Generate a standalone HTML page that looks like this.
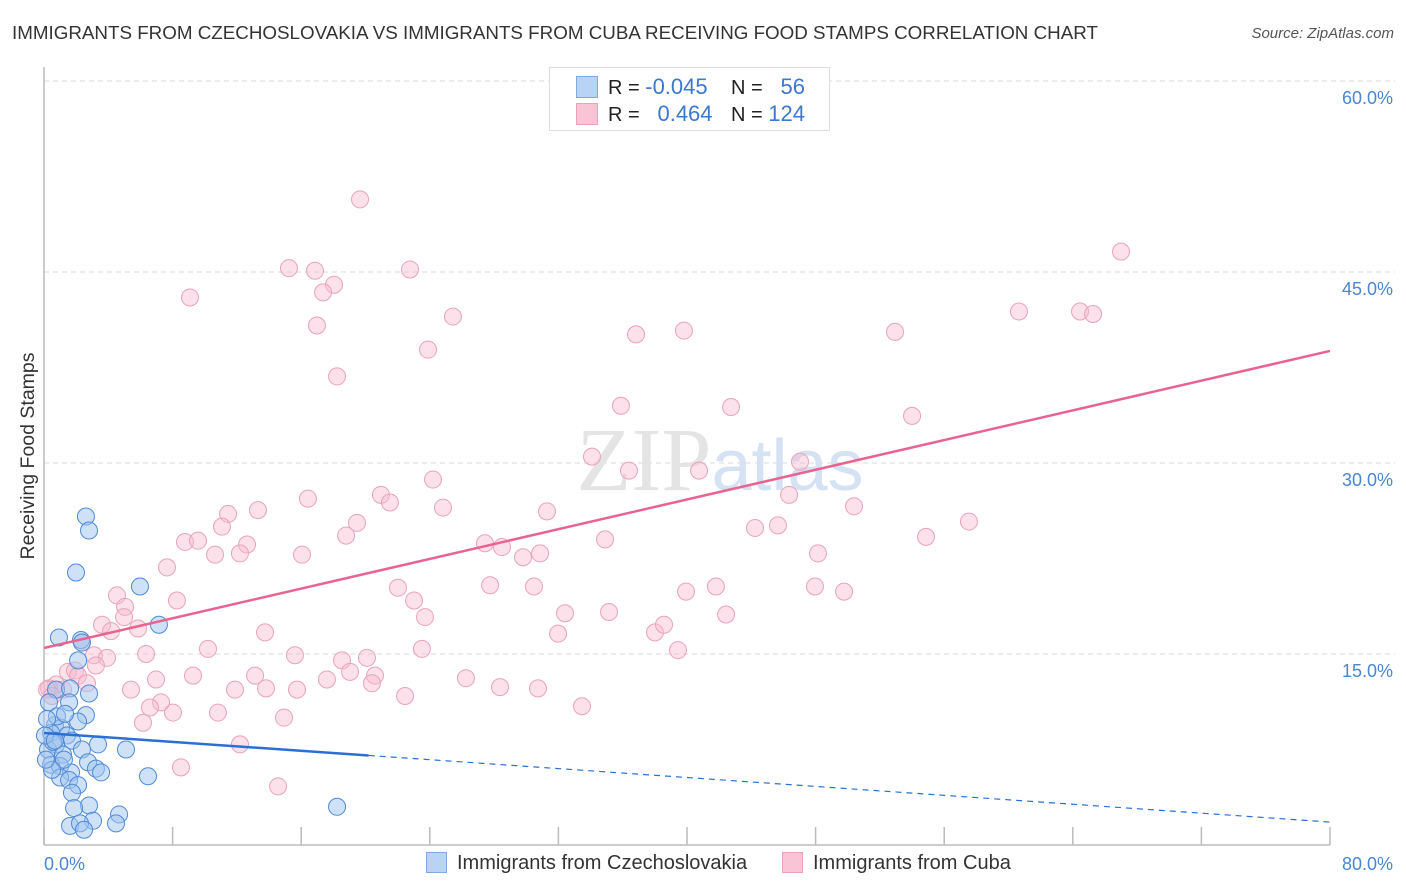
<!DOCTYPE html>
<html><head><meta charset="utf-8"><style>
body{margin:0;background:#fff;font-family:"Liberation Sans",sans-serif;}
#wrap{position:relative;width:1406px;height:892px;overflow:hidden;}
.t{position:absolute;white-space:nowrap;}
</style></head><body>
<div id="wrap">
<div class="t" style="left:12px;top:22px;font-size:18.8px;color:#333;">IMMIGRANTS FROM CZECHOSLOVAKIA VS IMMIGRANTS FROM CUBA RECEIVING FOOD STAMPS CORRELATION CHART</div>
<div class="t" style="right:12px;top:25px;font-size:15px;color:#555;font-style:italic;">Source: ZipAtlas.com</div>
<svg id="svg" width="1406" height="892" style="position:absolute;left:0;top:0"></svg>
</div>
<script>
const xTicks=[0,8,16,24,32,40,48,56,64,72,80];
const yTicks=[15,30,45,60];
const yTickLabels=["15.0%","30.0%","45.0%","60.0%"];
const xEndLabels=["0.0%","80.0%"];
const czX=[2.61,2.8,1.99,5.97,7.15,0.93,2.3,2.36,2.12,0.75,1.62,2.8,1.56,0.31,2.61,2.12,0.68,1.06,0.44,1.43,1.74,0.75,0.25,3.36,2.36,5.1,1.18,2.74,0.44,1.0,3.23,3.55,1.68,1.0,1.56,6.47,2.12,1.74,2.8,1.87,4.67,3.05,1.62,2.24,2.49,4.48,18.23,0.56,1.24,0.06,0.81,0.19,0.5,0.12,1.31,0.68];
const czY=[25.8,24.7,21.4,20.3,17.3,16.3,16.1,15.9,14.5,12.2,12.3,11.9,11.2,11.2,10.2,9.7,9.4,9.2,8.8,8.6,8.2,7.9,7.5,7.9,7.5,7.5,7.1,6.5,6.3,6.2,6.0,5.7,5.7,5.3,5.1,5.4,4.7,4.1,3.1,2.9,2.4,1.9,1.5,1.7,1.2,1.7,3.0,8.1,6.7,8.6,10.1,9.9,5.9,6.7,10.3,8.2];
const cuX=[19.66,15.24,16.86,18.04,17.36,9.08,22.77,25.44,16.98,23.89,18.23,67.0,60.65,64.45,65.26,52.94,39.81,36.83,42.74,35.89,54.0,34.09,36.39,40.75,47.03,24.2,20.96,21.52,16.42,13.31,11.45,24.82,31.29,50.39,57.54,19.47,11.07,18.79,46.35,45.66,44.23,34.9,54.87,27.43,28.49,29.8,30.86,48.15,8.77,9.58,12.63,12.19,16.05,10.64,7.65,27.75,30.48,22.02,41.8,47.96,49.77,39.94,8.27,4.54,23.02,23.7,5.04,4.98,32.41,35.15,42.43,3.61,4.17,5.85,2.36,31.98,38.01,38.57,13.75,10.2,39.44,6.35,3.11,3.92,3.23,1.49,1.93,2.12,15.61,23.51,18.54,20.09,19.04,20.59,9.27,13.13,6.97,17.6,26.25,20.4,2.67,1.18,0.75,0.31,5.41,11.88,13.81,15.74,28.37,30.73,22.46,7.28,6.59,8.02,10.82,33.47,14.93,6.16,12.19,8.52,14.56,0.19,0.5];
const cuY=[50.7,45.3,45.1,44.0,43.4,43.0,45.2,41.5,40.8,38.9,36.8,46.6,41.9,41.9,41.7,40.3,40.4,40.1,34.4,34.5,33.7,30.5,29.4,29.4,30.1,28.7,27.5,26.9,27.2,26.3,26.0,26.5,26.2,26.6,25.4,25.3,25.0,24.3,27.5,25.1,24.9,24.0,24.2,23.7,23.4,22.6,22.9,22.9,23.8,23.9,23.6,22.9,22.8,22.8,21.8,20.4,20.3,20.2,20.3,20.3,19.9,19.9,19.2,19.6,19.2,17.9,18.7,17.9,18.2,18.3,18.1,17.3,16.8,17.0,15.9,16.6,16.7,17.3,16.7,15.4,15.3,15.0,14.9,14.7,14.1,13.6,13.7,13.3,14.9,15.4,14.5,14.7,13.6,13.3,13.3,13.3,13.0,13.0,13.1,12.7,12.7,12.2,12.6,12.3,12.2,12.2,12.3,12.2,12.4,12.3,11.7,11.2,10.8,10.4,10.4,10.9,10.0,9.6,7.9,6.1,4.6,12.2,11.7];
const czTrend=[8.8,1.8];
const cuTrend=[15.47,38.8];
const czSolidEnd=20.2;

const X0=44,X1=1330,Y0=845,PX=191/15;
const sx=v=>X0+(v-0)/80*(X1-X0);
const sy=v=>Y0-v*PX;
const NS="http://www.w3.org/2000/svg";
const svg=document.getElementById('svg');
function mk(tag,attrs,parent){const e=document.createElementNS(NS,tag);for(const k in attrs)e.setAttribute(k,attrs[k]);(parent||svg).appendChild(e);return e;}

yTicks.forEach((t,i)=>{
  const g=mk('line',{x1:X0,x2:1395,y1:sy(t),y2:sy(t),stroke:'#d8d8d8','stroke-dasharray':'5,4','stroke-width':1});
  
  
  const l=mk('text',{x:1393,y:sy(t)+23,'text-anchor':'end',fill:'#4a86d0','font-size':18,'font-family':'Liberation Sans, sans-serif'});
  l.textContent=yTickLabels[i];
  
  
});
const ya=mk('line',{x1:X0,x2:X0,y1:67,y2:Y0,stroke:'#bbb','stroke-width':1.5});


const xa=mk('line',{x1:X0,x2:X1,y1:Y0,y2:Y0,stroke:'#bbb','stroke-width':1.5});


xTicks.forEach(t=>{
  const tk=mk('line',{x1:sx(t),x2:sx(t),y1:827,y2:Y0,stroke:'#bbb','stroke-width':1.5});
  
  
});
[[0,'start',44],[80,'end',1393]].forEach((d,i)=>{
  const l=mk('text',{x:d[2],y:870,'text-anchor':d[1],fill:'#4a86d0','font-size':18,'font-family':'Liberation Sans, sans-serif'});
  l.textContent=xEndLabels[i];
  
  
});
const yt=mk('text',{x:34,y:456,'text-anchor':'middle',fill:'#333','font-size':19.5,transform:'rotate(-90 34 456)','font-family':'Liberation Sans, sans-serif'});
yt.textContent='Receiving Food Stamps';


const wm=mk('text',{x:720,y:490,'text-anchor':'middle','font-size':90,'font-family':'Liberation Serif, serif',fill:'#e4e4e4'});
wm.innerHTML='ZIP<tspan fill="#d4e2f4" font-family="Liberation Sans, sans-serif" font-size="72">atlas</tspan>';



cuX.forEach((x,i)=>{
  const c=mk('circle',{cx:sx(x),cy:sy(cuY[i]),r:8.5,fill:'rgba(248,187,208,0.45)',stroke:'#e8a3bb','stroke-width':1});
  
  
});
czX.forEach((x,i)=>{
  const c=mk('circle',{cx:sx(x),cy:sy(czY[i]),r:8.5,fill:'rgba(160,196,240,0.5)',stroke:'#4f8ad6','stroke-width':1});
  
  
});
const cl=mk('line',{x1:sx(0),y1:sy(cuTrend[0]),x2:sx(80),y2:sy(cuTrend[1]),stroke:'#e8648f','stroke-width':2.5});


const zy=v=>czTrend[0]+(czTrend[1]-czTrend[0])*v/80;
const bl=mk('line',{x1:sx(0),y1:sy(czTrend[0]),x2:sx(czSolidEnd),y2:sy(zy(czSolidEnd)),stroke:'#2a6fd4','stroke-width':2.5});


const bd=mk('line',{x1:sx(czSolidEnd),y1:sy(zy(czSolidEnd)),x2:sx(80),y2:sy(czTrend[1]),stroke:'#2a6fd4','stroke-width':1.2,'stroke-dasharray':'6,5'});


</script>
<div class="t" style="left:549px;top:67px;width:279px;height:62px;border:1px solid #ddd;background:#fff;font-size:20px;">
  <div style="position:absolute;left:26px;top:8px;width:20px;height:20px;background:#b9d3f5;border:1px solid #7fa9e0;"></div>
  <div style="position:absolute;left:26px;top:35px;width:20px;height:20px;background:#f9c5d6;border:1px solid #eba2bb;"></div>
  <div class="t" style="left:58px;top:6px;color:#222;">R = <span style="color:#3b78d0;font-size:22px">-0.045</span></div>
  <div class="t" style="left:181px;top:6px;color:#222;">N = <span style="color:#3b78d0;font-size:22px">&nbsp;&nbsp;56</span></div>
  <div class="t" style="left:58px;top:33px;color:#222;">R = <span style="color:#3b78d0;font-size:22px">&nbsp;&nbsp;0.464</span></div>
  <div class="t" style="left:181px;top:33px;color:#222;">N = <span style="color:#3b78d0;font-size:22px">124</span></div>
</div>
<div class="t" style="left:426px;top:852px;font-size:20px;color:#333;">
  <span style="display:inline-block;width:19px;height:19px;background:#b9d3f5;border:1px solid #7fa9e0;vertical-align:-4px;margin-right:10px;"></span>Immigrants from Czechoslovakia</div>
<div class="t" style="left:782px;top:852px;font-size:20px;color:#333;">
  <span style="display:inline-block;width:19px;height:19px;background:#f9c5d6;border:1px solid #eba2bb;vertical-align:-4px;margin-right:10px;"></span>Immigrants from Cuba</div>
</body></html>
